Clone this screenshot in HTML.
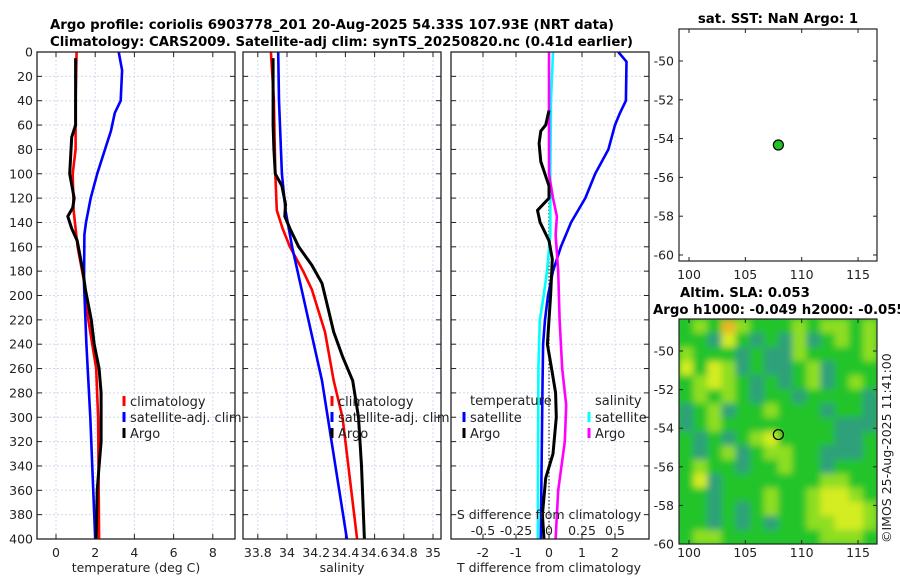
<!DOCTYPE html>
<html><head><meta charset="utf-8">
<style>
html,body{margin:0;padding:0;background:#fff;}
svg{display:block;font-family:"DejaVu Sans","Liberation Sans",sans-serif;}
.t{font-size:12.5px;fill:#222;}
.b{font-size:13.3px;font-weight:bold;fill:#000;}
</style></head>
<body>
<svg id="fig" width="900" height="580" viewBox="0 0 900 580" xmlns="http://www.w3.org/2000/svg">
<defs>
<filter id="blur" x="0" y="0" width="1" height="1"><feGaussianBlur stdDeviation="3.5" edgeMode="duplicate"/></filter>
<clipPath id="mapclip"><rect x="679" y="319" width="198" height="225"/></clipPath>
</defs>
<text class="b" x="50" y="29" textLength="564">Argo profile: coriolis 6903778_201 20-Aug-2025 54.33S 107.93E (NRT data)</text>
<text class="b" x="50" y="46" textLength="583">Climatology: CARS2009. Satellite-adj clim: synTS_20250820.nc (0.41d earlier)</text>
<text class="b" x="778" y="23" text-anchor="middle">sat. SST: NaN Argo: 1</text>
<text class="b" x="680" y="297">Altim. SLA: 0.053</text>
<text class="b" x="653" y="314">Argo h1000: -0.049 h2000: -0.055</text>
<text class="t" transform="translate(891,543) rotate(-90)">©IMOS 25-Aug-2025 11:41:00</text>
<g id="g"></g>
</svg>
<script>
// ---- data ----
const depthTicks=[0,20,40,60,80,100,120,140,160,180,200,220,240,260,280,300,320,340,360,380,400];
const tempTicks=[0,2,4,6,8];
const salTicks=[33.8,34,34.2,34.4,34.6,34.8,35];
const tdiffTicks=[-2,-1,0,1,2];
const sdiffTicks=[-0.5,-0.25,0,0.25,0.5];
const sdiffLabels=["-0.5","-0.25","0","0.25","0.5"];
const latTicks=[-50,-52,-54,-56,-58,-60];
const lonTicks=[100,105,110,115];

const argoTD=[5,60,70,100,120,128,135,145,155,180,195,220,240,260,280,320,340,360,400];
const argoT=[1.0,1.0,0.8,0.7,0.93,0.85,0.6,0.8,1.08,1.37,1.5,1.8,1.95,2.2,2.3,2.3,2.2,2.1,2.05];
const climTD=[0,40,80,100,130,160,190,220,260,300,400];
const climT=[1.05,1.0,1.0,0.85,0.9,1.1,1.45,1.65,2.05,2.15,2.2];
const satTD=[0,15,40,50,65,80,100,120,140,150,190,240,300,400];
const satT=[3.2,3.37,3.3,3.0,2.8,2.5,2.1,1.77,1.53,1.45,1.43,1.55,1.75,2.0];

const argoSD=[5,60,80,100,110,125,135,145,160,175,190,210,230,250,270,300,340,400];
const argoS=[33.905,33.905,33.91,33.92,33.965,33.99,33.985,34.02,34.08,34.17,34.24,34.28,34.32,34.38,34.45,34.49,34.51,34.53];
const climSD=[0,40,100,130,145,160,180,195,230,270,300,350,400];
const climS=[33.89,33.91,33.92,33.93,33.97,34.02,34.11,34.17,34.26,34.32,34.38,34.43,34.48];
const satSD=[0,40,100,130,160,195,270,400];
const satS=[33.94,33.945,33.965,33.99,34.035,34.1,34.24,34.41];

const tdSatD=[0,8,40,50,60,80,100,120,140,160,180,200,220,240,280,400];
const tdSat=[2.1,2.35,2.33,2.15,2.0,1.8,1.4,1.1,0.67,0.36,0.12,-0.03,-0.12,-0.18,-0.2,-0.25];
const tdArgoD=[48,60,65,75,90,110,120,130,140,155,170,200,240,260,280,300,330,350,380,400];
const tdArgo=[0,-0.1,-0.25,-0.3,-0.25,0,0,-0.35,-0.27,0,0.1,0.05,-0.05,0.08,0.2,0.22,0.12,-0.1,-0.2,-0.15];
const sdArgoD=[0,100,120,135,150,180,220,240,260,290,320,360,400];
const sdArgo=[0,0.0,0.03,0.06,0.05,0.07,0.08,0.09,0.1,0.13,0.12,0.07,0.05];
const sdSatD=[0,40,100,150,180,200,220,240,260,400];
const sdSat=[0.03,0.015,0.01,0.01,-0.015,-0.04,-0.07,-0.075,-0.08,-0.085];

const argoLon=[107.93];
const argoLat=[-54.33];
const slaGrid=[
[1,2,1,4,2,1,1,1,2,1,2,2,1,2],
[1,1,0,3,1,0,1,0,2,0,1,2,1,2],
[2,1,1,1,0,1,0,0,2,1,1,1,1,2],
[3,1,3,2,0,1,0,0,1,2,0,1,1,1],
[1,2,3,2,1,0,1,0,1,2,0,1,2,1],
[1,2,1,2,1,0,1,1,0,1,1,1,1,0],
[0,1,2,0,1,1,2,1,1,1,0,1,1,0],
[0,1,2,1,1,1,1,1,1,1,1,0,0,0],
[1,0,1,0,1,2,3,1,1,1,1,0,0,1],
[1,0,1,2,0,1,2,2,1,1,0,0,0,1],
[1,2,1,1,0,1,1,2,1,1,0,1,1,1],
[1,3,0,1,1,1,1,1,1,1,2,2,1,1],
[1,1,0,1,1,1,2,1,1,2,3,3,2,1],
[1,1,0,1,0,1,2,1,1,2,3,3,3,2],
[1,1,0,1,0,1,0,1,1,2,2,3,3,2],
[1,2,2,1,1,1,1,1,1,1,2,2,2,1]];

// ---- drawing ----
const NS="http://www.w3.org/2000/svg";
const G=document.getElementById('g');
function mk(tag,at,parent){const e=document.createElementNS(NS,tag);for(const k in at)e.setAttribute(k,at[k]);(parent||G).appendChild(e);return e;}
function txt(s,x,y,anchor,cls){const e=mk('text',{x:x,y:y,'text-anchor':anchor||'middle',class:cls||'t'});e.textContent=s;return e;}

const yTop=52,yBot=539;
const yD=d=>yTop+(yBot-yTop)*d/400;
const xT=v=>56+19.6*v;
const xS=v=>287+146*(v-34);
const xTD=v=>549+33*v;
const xSD=v=>549+132*v;

function panel(x0,x1,name,xs,ticks,labels,yLabels){
  const fr=mk('rect',{x:x0,y:yTop,width:x1-x0,height:yBot-yTop,fill:'#fff',stroke:'none'});
  
  
  ticks.forEach((t,i)=>{const x=xs(t);
    mk('line',{x1:x,x2:x,y1:yTop,y2:yBot,stroke:'#d2d8f0','stroke-dasharray':'2,2','stroke-width':1});
    mk('line',{x1:x,x2:x,y1:yBot,y2:yBot-5,stroke:'#222'});
    mk('line',{x1:x,x2:x,y1:yTop,y2:yTop+5,stroke:'#222'});
    const l=txt(labels[i],x,557);
    
    
  });
  depthTicks.forEach(d=>{const y=yD(d);
    if(d>0&&d<400)mk('line',{x1:x0,x2:x1,y1:y,y2:y,stroke:'#d2d8f0','stroke-dasharray':'2,2','stroke-width':1});
    mk('line',{x1:x0,x2:x0+5,y1:y,y2:y,stroke:'#222'});
    mk('line',{x1:x1,x2:x1-5,y1:y,y2:y,stroke:'#222'});
    if(yLabels){const l=txt(String(d),33,y+4.5,'end');
      
      }
  });
}
function border(x0,x1,name){const b=mk('rect',{x:x0,y:yTop,width:x1-x0,height:yBot-yTop,fill:'none',stroke:'#222','stroke-width':1.3});
  
  }
function line(ds,vs,xs,color,name,w,dash){
  const pts=ds.map((d,i)=>xs(vs[i]).toFixed(1)+','+yD(d).toFixed(1)).join(' ');
  const p=mk('polyline',{points:pts,fill:'none',stroke:color,'stroke-width':w||2.6,'stroke-linejoin':'round'});
  if(dash)p.setAttribute('stroke-dasharray',dash);
  
  
}
function legend(x,y,color,label,name){
  const m=mk('rect',{x:x-1.5,y:y-10,width:3,height:10,fill:color});
  
  
  const t=txt(label,x+6,y,'start');
  t.setAttribute('style','font-size:13px');
  
  
}

// panel 1
panel(37,235,'temperature',xT,tempTicks,tempTicks.map(String),true);
line(climTD,climT,xT,'#ff0000','temperature-climatology-line');
line(satTD,satT,xT,'#0000ff','temperature-satellite-line');
line(argoTD,argoT,xT,'#000000','temperature-argo-line',3);
border(37,235,'temperature');
let xl=txt('temperature (deg C)',136,572);


legend(124,406,'#ff0000','climatology','temp-legend-climatology');
legend(124,422,'#0000ff','satellite-adj. clim','temp-legend-satellite');
legend(124,438,'#000000','Argo','temp-legend-argo');

// panel 2
panel(243,441,'salinity',xS,salTicks,salTicks.map(String),false);
line(climSD,climS,xS,'#ff0000','salinity-climatology-line');
line(satSD,satS,xS,'#0000ff','salinity-satellite-line');
line(argoSD,argoS,xS,'#000000','salinity-argo-line',3);
border(243,441,'salinity');
xl=txt('salinity',342,572);


legend(332,406,'#ff0000','climatology','sal-legend-climatology');
legend(332,422,'#0000ff','satellite-adj. clim','sal-legend-satellite');
legend(332,438,'#000000','Argo','sal-legend-argo');

// panel 3
panel(451,649,'difference',xTD,tdiffTicks,tdiffTicks.map(String),false);
mk('line',{x1:xTD(0),x2:xTD(0),y1:yTop,y2:yBot,stroke:'#333','stroke-dasharray':'1.5,2','stroke-width':1.2});
line(sdSatD,sdSat,xSD,'#00ffff','sdiff-satellite-line');
line(tdSatD,tdSat,xTD,'#0000ff','tdiff-satellite-line');
line(sdArgoD,sdArgo,xSD,'#ff00ff','sdiff-argo-line');
line(tdArgoD,tdArgo,xTD,'#000000','tdiff-argo-line',3);
border(451,649,'difference');
xl=txt('T difference from climatology',549,572);


xl=txt('S difference from climatology',549,519);


sdiffTicks.forEach((s,i)=>{const l=txt(sdiffLabels[i],xSD(s),535);
  
  });
let h=txt('temperature',470,405,'start');
h.setAttribute('style','font-size:13px');


h=txt('salinity',595,405,'start');
h.setAttribute('style','font-size:13px');


legend(464,422,'#0000ff','satellite','tdiff-legend-satellite');
legend(464,438,'#000000','Argo','tdiff-legend-argo');
legend(589,422,'#00ffff','satellite','sdiff-legend-satellite');
legend(589,438,'#ff00ff','Argo','sdiff-legend-argo');

// maps
const mx0=679,mx1=877;
const xLon=v=>689+11.27*(v-100);
function mapAxes(y0,y1,yLat,name,lonLabelY){
  latTicks.forEach(l=>{const y=yLat(l);
    mk('line',{x1:mx0,x2:mx0+4,y1:y,y2:y,stroke:'#222'});
    mk('line',{x1:mx1,x2:mx1-4,y1:y,y2:y,stroke:'#222'});
    const t=txt(String(l),674,y+4.5,'end');
    
    });
  lonTicks.forEach(l=>{const x=xLon(l);
    mk('line',{x1:x,x2:x,y1:y1,y2:y1-4,stroke:'#222'});
    mk('line',{x1:x,x2:x,y1:y0,y2:y0+4,stroke:'#222'});
    const t=txt(String(l),x,lonLabelY);
    
    });
  const b=mk('rect',{x:mx0,y:y0,width:mx1-mx0,height:y1-y0,fill:'none',stroke:'#222','stroke-width':1.2});
  
  
}
// top SST map
const yLat1=v=>61+19.4*(-50-v);
mapAxes(29,261,yLat1,'sst-map',279);
argoLon.forEach((lo,i)=>{const c=mk('circle',{cx:xLon(lo),cy:yLat1(argoLat[i]),r:5,fill:'#22c322',stroke:'#000','stroke-width':1.2});
  
  });
// bottom SLA map
const yLat2=v=>351+19.3*(-50-v);
const my0=319,my1=544;
const cols=['#2fa07a','#22c42c','#8ede22','#d4ec20','#eeb426'];
const nr=slaGrid.length,nc=slaGrid[0].length;
const cw=(mx1-mx0)/nc,ch=(my1-my0)/nr;
const clipG=mk('g',{'clip-path':'url(#mapclip)'});


mk('rect',{x:mx0,y:my0,width:mx1-mx0,height:my1-my0,fill:cols[1]},clipG);
const heat=mk('g',{filter:'url(#blur)'},clipG);
slaGrid.forEach((row,r)=>row.forEach((v,c)=>{
  const cell=mk('rect',{x:(mx0+c*cw).toFixed(2),y:(my0+r*ch).toFixed(2),width:(cw+0.6).toFixed(2),height:(ch+0.6).toFixed(2),fill:cols[v]},heat);
  
  
}));
mapAxes(my0,my1,yLat2,'sla-map',557);
argoLon.forEach((lo,i)=>{const c=mk('circle',{cx:xLon(lo),cy:yLat2(argoLat[i]),r:5,fill:'none',stroke:'#000','stroke-width':1.2});
  
  });
</script>
</body></html>
